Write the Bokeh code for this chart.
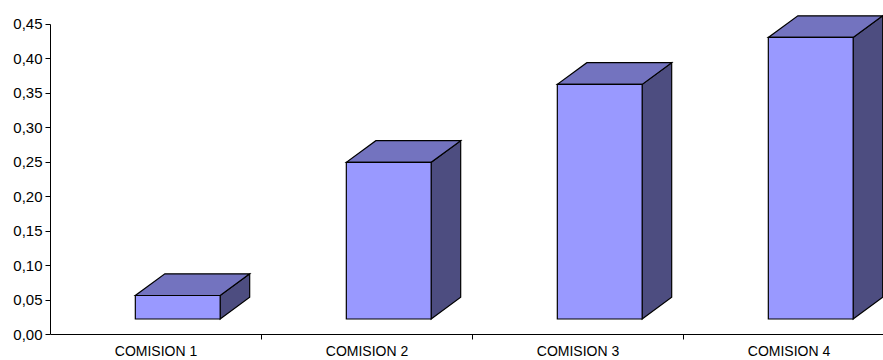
from bokeh.plotting import figure
from bokeh.models import Range1d, FixedTicker, CustomJSTickFormatter
from bokeh.embed import file_html
from bokeh.resources import INLINE

# data
categories = ["COMISION 1", "COMISION 2", "COMISION 3", "COMISION 4"]
values = [0.034, 0.227, 0.340, 0.408]
y_ticks = [0.00, 0.05, 0.10, 0.15, 0.20, 0.25, 0.30, 0.35, 0.40, 0.45]

# colours of the three visible faces of each box
FRONT = "#9999FF"
TOP = "#7373BF"
SIDE = "#4D4D80"

# pseudo-3D box geometry, in axis units
BAR_L, BAR_R = -0.098, 0.304     # front face, relative to category centre
DEPTH_X, DEPTH_Y = 0.14, 0.0314  # oblique depth offset
FLOOR = 0.0225                   # raised floor of the boxes

CAT_PX = 211                     # pixels per category slot
PX_PER_UNIT = 690                # vertical pixels per value unit
centres = [i + 0.5 for i in range(len(categories))]

# the frame fills the window below and right of the value axis;
# the category axis sits at value 0 inside it
p = figure(
    width=883, height=360,
    x_range=Range1d(0, 833 / CAT_PX),
    y_range=Range1d(-26 / PX_PER_UNIT, 334 / PX_PER_UNIT),
    output_backend="svg", toolbar_location=None,
    min_border_left=50, min_border_right=0,
    min_border_top=0, min_border_bottom=0,
)
p.outline_line_color = None
p.xgrid.grid_line_color = None
p.ygrid.grid_line_color = None
p.background_fill_color = "white"
p.border_fill_color = "white"

# boxes: side and top faces first, then the front face
lefts = [c + BAR_L for c in centres]
rights = [c + BAR_R for c in centres]
tops = [FLOOR + v for v in values]

side_xs = [[r, r + DEPTH_X, r + DEPTH_X, r] for r in rights]
side_ys = [[FLOOR, FLOOR + DEPTH_Y, t + DEPTH_Y, t] for t in tops]
top_xs = [[l, r, r + DEPTH_X, l + DEPTH_X] for l, r in zip(lefts, rights)]
top_ys = [[t, t, t + DEPTH_Y, t + DEPTH_Y] for t in tops]

p.patches(side_xs, side_ys, fill_color=SIDE, line_color="black",
          line_width=1.2, line_join="miter")
p.patches(top_xs, top_ys, fill_color=TOP, line_color="black",
          line_width=1.2, line_join="miter")
p.quad(left=lefts, right=rights, bottom=[FLOOR] * len(values), top=tops,
       fill_color=FRONT, line_color="black", line_width=1.2,
       line_join="miter")

# value axis
ya = p.yaxis[0]
ya.ticker = FixedTicker(ticks=y_ticks, minor_ticks=[])
ya.bounds = (0, 0.45)
ya.formatter = CustomJSTickFormatter(
    code="return tick.toFixed(2).replace('.', ',');")
ya.major_tick_out = 5
ya.major_tick_in = 0
ya.major_label_standoff = 3
ya.axis_line_color = "black"
ya.major_tick_line_color = "black"
ya.major_label_text_font = "Liberation Sans"
ya.major_label_text_font_size = "15px"
ya.major_label_text_color = "black"

# category axis: labels at centres, ticks at slot boundaries
xa = p.xaxis[0]
xa.fixed_location = 0
xa.ticker = FixedTicker(ticks=centres,
                        minor_ticks=[float(i) for i in range(1, len(categories))])
xa.major_label_overrides = {c: name for c, name in zip(centres, categories)}
xa.major_tick_out = 0
xa.major_tick_in = 0
xa.minor_tick_out = 5
xa.minor_tick_in = 0
xa.major_label_standoff = 3
xa.axis_line_color = "black"
xa.minor_tick_line_color = "black"
xa.major_label_text_font = "Liberation Sans"
xa.major_label_text_font_size = "14px"
xa.major_label_text_color = "black"

open("out.html", "w").write(file_html(p, INLINE))
